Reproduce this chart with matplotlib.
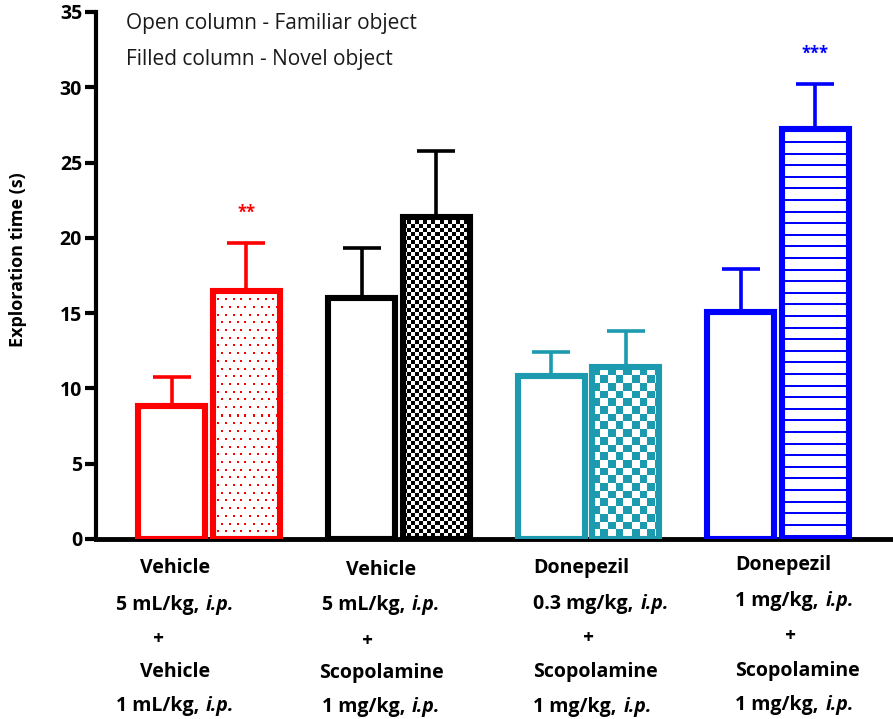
import numpy as np
import matplotlib.pyplot as plt
from matplotlib.colors import to_rgb

plt.rcParams['font.family'] = ['Open Sans', 'DejaVu Sans']

# Data (mean and upward SEM, seconds)
familiar = [8.8, 16.0, 10.8, 15.1]
familiar_err = [1.95, 3.3, 1.6, 2.8]
novel = [16.5, 21.4, 11.4, 27.2]
novel_err = [3.15, 4.35, 2.4, 3.0]
colors = ['#ff0000', '#000000', '#1b9ab0', '#0000ff']
textures = ['dots', 'checker_small', 'checker_big', 'hlines']
stars = ['**', '', '', '***']
yticks = [0, 5, 10, 15, 20, 25, 30, 35]

label_lines = [
    [('Vehicle', None), ('5 mL/kg, ', 'i.p.'), (None, '+'), ('Vehicle', None), ('1 mL/kg, ', 'i.p.')],
    [('Vehicle', None), ('5 mL/kg, ', 'i.p.'), (None, '+'), ('Scopolamine', None), ('1 mg/kg, ', 'i.p.')],
    [('Donepezil', None), ('0.3 mg/kg, ', 'i.p.'), (None, '+'), ('Scopolamine', None), ('1 mg/kg, ', 'i.p.')],
    [('Donepezil', None), ('1 mg/kg, ', 'i.p.'), (None, '+'), ('Scopolamine', None), ('1 mg/kg, ', 'i.p.')],
]

W, H = 893, 719
fig = plt.figure(figsize=(W / 100, H / 100), dpi=100)
ax = fig.add_axes([96 / W, 180 / H, 797 / W, 527 / H])

step = 2.545
x_open = np.arange(4) * step
x_fill = x_open + 1.0
bw = 0.9
ax.set_xlim(-1.02, 9.68)
ax.set_ylim(0, 35)

b_open = ax.bar(x_open, familiar, bw, facecolor='none', edgecolor=colors, linewidth=4.4, zorder=3)
b_fill = ax.bar(x_fill, novel, bw, facecolor='none', edgecolor=colors, linewidth=4.4, zorder=3)

for i in range(4):
    ax.errorbar(x_open[i], familiar[i], yerr=[[0], [familiar_err[i]]], fmt='none', ecolor=colors[i],
                elinewidth=2.6, capsize=13.5, capthick=2.6, zorder=1)
    ax.errorbar(x_fill[i], novel[i], yerr=[[0], [novel_err[i]]], fmt='none', ecolor=colors[i],
                elinewidth=2.6, capsize=13.5, capthick=2.6, zorder=1)
    if stars[i]:
        ax.text(x_fill[i], novel[i] + novel_err[i] + 1.4, stars[i], color=colors[i], ha='center',
                va='bottom', fontsize=12, fontweight='bold')


def add_texture(bar, kind, color):
    x0, y0 = bar.get_x(), bar.get_y()
    w, h = bar.get_width(), bar.get_height()
    p0 = ax.transData.transform((x0, y0))
    p1 = ax.transData.transform((x0 + w, y0 + h))
    nx, ny = int(round(p1[0] - p0[0])), int(round(p1[1] - p0[1]))
    yy, xx = np.mgrid[0:ny, 0:nx].astype(float)
    if kind == 'dots':
        s = 7.7
        r = np.floor(yy / s)
        mask = ((yy % s) < 2) & (((xx + (r % 2) * s / 2) % s) < 2)
    elif kind == 'checker_small':
        mask = ((xx // 4 + yy // 4) % 2) == 0
    elif kind == 'checker_big':
        mask = ((xx // 7.7 + yy // 7.7) % 2) == 0
    else:
        mask = (yy % 11.6) < 2
    img = np.zeros((ny, nx, 4))
    img[..., :3] = to_rgb(color)
    img[..., 3] = mask
    im = ax.imshow(img, extent=(x0, x0 + w, y0, y0 + h), origin='upper', aspect='auto',
                   interpolation='nearest', zorder=2)
    im.set_clip_path(bar)


for bar, kind, c in zip(b_fill, textures, colors):
    add_texture(bar, kind, c)

ax.set_xlim(-1.02, 9.68)
ax.set_ylim(0, 35)

for s in ['top', 'right']:
    ax.spines[s].set_visible(False)
ax.spines['left'].set_linewidth(3)
ax.spines['bottom'].set_linewidth(3.5)
ax.set_xticks([])
ax.set_yticks(yticks)
ax.tick_params(axis='y', length=8, width=3, pad=2, labelsize=14)
for t in ax.get_yticklabels():
    t.set_fontweight('bold')
ax.set_ylabel('Exploration time (s)', fontsize=13, fontweight='bold')
ax.yaxis.set_label_coords(-0.086, 0.53)

ax.text((126 - 96) / 797, 1 - 12 / 527, 'Open column - Familiar object', transform=ax.transAxes,
        fontsize=15, color='#1a1a1a', va='center', ha='left')
ax.text((126 - 96) / 797, 1 - 47 / 527, 'Filled column - Novel object', transform=ax.transAxes,
        fontsize=15, color='#1a1a1a', va='center', ha='left')

# x labels below the axis, positioned in figure pixels
renderer = fig.canvas.get_renderer()
anchors = [(175, 'center', 158), (381, 'center', 367), (533, 'left', 588), (735, 'left', 790)]
rows = [[568, 605, 639, 672, 706], [570, 605, 641, 673, 707],
        [568, 604, 638, 672, 707], [565, 601, 636, 671, 705]]
fs = 14
for g, lines in enumerate(label_lines):
    ax_px, align, plus_x = anchors[g]
    for (bold, ital), py in zip(lines, rows[g]):
        fy = 1 - py / H
        if bold is None:
            fig.text(plus_x / W, fy, ital, ha='center', va='center', fontsize=fs,
                     fontweight='bold', fontstyle='italic')
            continue
        t1 = fig.text(0, fy, bold.rstrip(), ha='left', va='center', fontsize=fs, fontweight='bold')
        w1 = t1.get_window_extent(renderer).width
        parts = [(t1, 0)]
        total = w1
        if ital:
            t2 = fig.text(0, fy, ital, ha='left', va='center', fontsize=fs, fontweight='bold',
                          fontstyle='italic')
            gap = 7
            parts.append((t2, w1 + gap))
            total = w1 + gap + t2.get_window_extent(renderer).width
        left = ax_px - total / 2 if align == 'center' else ax_px
        for t, off in parts:
            t.set_x((left + off) / W)

fig.savefig('out.png', dpi=100)
